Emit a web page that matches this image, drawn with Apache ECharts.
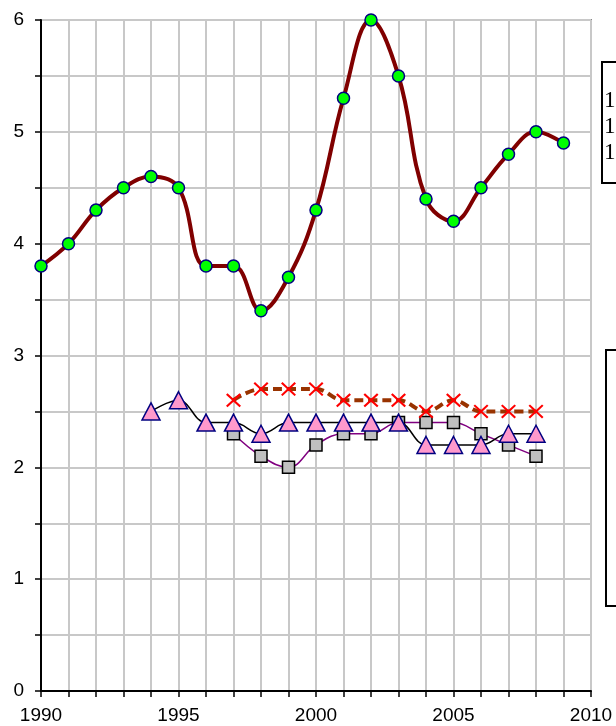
<!DOCTYPE html>
<html>
<head>
<meta charset="utf-8">
<script src="https://cdn.jsdelivr.net/npm/echarts@6/dist/echarts.min.js"></script>
<style>
  html, body { margin: 0; padding: 0; background: #fff; }
  #chart { width: 616px; height: 726px; }
</style>
</head>
<body>
<div id="chart"></div>
<script>
// values
var yearsMain = [1990, 1991, 1992, 1993, 1994, 1995, 1996, 1997, 1998, 1999,
                 2000, 2001, 2002, 2003, 2004, 2005, 2006, 2007, 2008, 2009];
var valuesMain = [3.8, 4.0, 4.3, 4.5, 4.6, 4.5, 3.8, 3.8, 3.4, 3.7,
                  4.3, 5.3, 6.0, 5.5, 4.4, 4.2, 4.5, 4.8, 5.0, 4.9];

var yearsCross = [1997, 1998, 1999, 2000, 2001, 2002, 2003, 2004, 2005, 2006, 2007, 2008];
var valuesCross = [2.6, 2.7, 2.7, 2.7, 2.6, 2.6, 2.6, 2.5, 2.6, 2.5, 2.5, 2.5];

var yearsTri = [1994, 1995, 1996, 1997, 1998, 1999, 2000, 2001, 2002, 2003, 2004, 2005, 2006, 2007, 2008];
var valuesTri = [2.5, 2.6, 2.4, 2.4, 2.3, 2.4, 2.4, 2.4, 2.4, 2.4, 2.2, 2.2, 2.2, 2.3, 2.3];

var yearsSq = [1997, 1998, 1999, 2000, 2001, 2002, 2003, 2004, 2005, 2006, 2007, 2008];
var valuesSq = [2.3, 2.1, 2.0, 2.2, 2.3, 2.3, 2.4, 2.4, 2.4, 2.3, 2.2, 2.1];

// the legend is cut off by the right edge, only the first characters show
var legendLabels = ['1', '1', '1'];

function pairs(xs, ys) {
    var out = [];
    for (var i = 0; i < xs.length; i++) {
        out.push([xs[i], ys[i]]);
    }
    return out;
}

var crossPath = 'path://M0,2L2,0L10,8L18,0L20,2L12,10L20,18L18,20L10,12L2,20L0,18L8,10Z';

var chart = echarts.init(document.getElementById('chart'));

var legendTexts = legendLabels.map(function (t, i) {
    return {
        type: 'text',
        left: 604,
        top: 89 + i * 26,
        style: { text: t, font: '23px "Liberation Serif"', fill: '#000' }
    };
});

var option = {
    backgroundColor: '#fff',
    animation: false,
    grid: {
        left: 41, right: 25, top: 20, bottom: 35,
        show: true,
        borderColor: '#888',
        borderWidth: 2
    },
    xAxis: {
        type: 'value',
        min: 1990, max: 2010, interval: 1,
        axisLine: { show: true, onZero: false, lineStyle: { color: '#000', width: 2 } },
        axisTick: { show: true, length: 6, lineStyle: { color: '#000', width: 1.5 } },
        axisLabel: {
            margin: 15,
            color: '#000',
            fontFamily: 'Liberation Sans',
            fontSize: 19,
            showMaxLabel: true,
            formatter: function (v) { return v % 5 === 0 ? String(v) : ''; }
        },
        splitLine: { show: true, lineStyle: { color: '#c8c8c8', width: 2 } }
    },
    yAxis: {
        type: 'value',
        min: 0, max: 6, interval: 0.5,
        axisLine: { show: true, onZero: false, lineStyle: { color: '#000', width: 2 } },
        axisTick: { show: true, length: 6, lineStyle: { color: '#000', width: 1.5 } },
        axisLabel: {
            margin: 17,
            color: '#000',
            fontFamily: 'Liberation Sans',
            fontSize: 19,
            formatter: function (v) { return v % 1 === 0 ? String(v) : ''; }
        },
        splitLine: { show: true, lineStyle: { color: '#c8c8c8', width: 2 } }
    },
    graphic: [
        {
            type: 'rect',
            shape: { x: 602, y: 62, width: 40, height: 121 },
            style: { fill: '#fff', stroke: '#000', lineWidth: 2 }
        },
        {
            type: 'rect',
            shape: { x: 606, y: 350, width: 40, height: 256 },
            style: { fill: '#fff', stroke: '#000', lineWidth: 2 }
        }
    ].concat(legendTexts),
    series: [
        {
            type: 'line',
            data: pairs(yearsSq, valuesSq),
            smooth: 0.4,
            symbol: 'rect',
            symbolSize: 12,
            lineStyle: { color: '#800080', width: 1.5 },
            itemStyle: { color: '#c0c0c0', borderColor: '#000', borderWidth: 1.5 },
            z: 2
        },
        {
            type: 'line',
            data: pairs(yearsTri, valuesTri),
            smooth: 0.4,
            symbol: 'triangle',
            symbolSize: [18, 17],
            lineStyle: { color: '#000', width: 1.5 },
            itemStyle: { color: '#ff99cc', borderColor: '#000080', borderWidth: 1.5 },
            z: 3
        },
        {
            type: 'line',
            data: pairs(yearsCross, valuesCross),
            smooth: 0.4,
            symbol: crossPath,
            symbolSize: [15, 14],
            lineStyle: { color: '#993300', width: 4, type: [9, 5] },
            itemStyle: { color: '#ff0000' },
            z: 4
        },
        {
            type: 'line',
            data: pairs(yearsMain, valuesMain),
            smooth: 0.4,
            symbol: 'circle',
            symbolSize: 12,
            lineStyle: { color: '#800000', width: 4 },
            itemStyle: { color: '#00ff00', borderColor: '#000080', borderWidth: 1.5 },
            z: 5
        }
    ]
};

chart.setOption(option);
</script>
</body>
</html>
